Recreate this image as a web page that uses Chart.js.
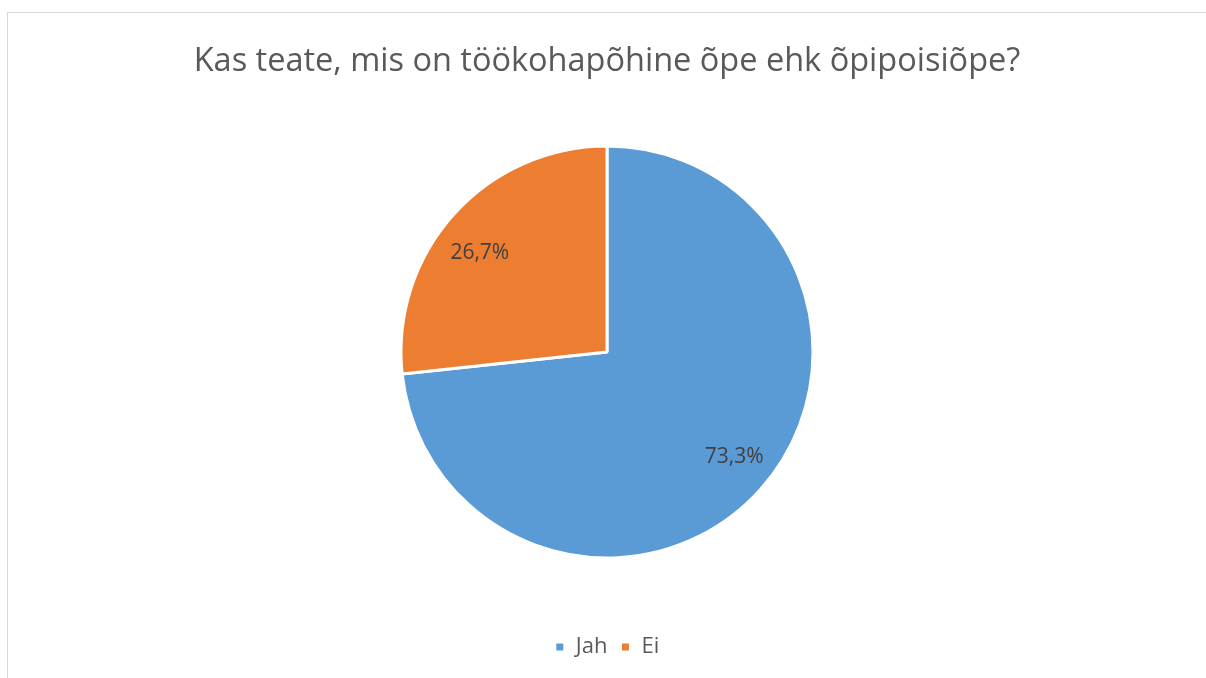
<!DOCTYPE html>
<html>
<head>
<meta charset="utf-8">
<script src="https://cdn.jsdelivr.net/npm/chart.js@4"></script>
<style>
  html, body { margin: 0; padding: 0; background: #fff; overflow: hidden; }
  #wrap { position: absolute; left: 0; top: 0; width: 1206px; height: 678px; }
  #frame { position: absolute; left: 7px; top: 12px; width: 1220px; height: 700px; border: 1px solid #d9d9d9; box-sizing: border-box; }
  canvas { position: absolute; left: 0; top: 0; }
</style>
</head>
<body>
<div id="wrap">
  <div id="frame"></div>
  <canvas id="c" width="1206" height="678"></canvas>
</div>
<script>
const titleText = 'Kas teate, mis on töökohapõhine õpe ehk õpipoisiõpe?';
const categories = ['Jah', 'Ei'];
const values = [73.3, 26.7];
const labelsText = ['73,3%', '26,7%'];
const colors = ['#5b9bd5', '#ed7d31'];

const FONT = "'Open Sans', 'Noto Sans', sans-serif";

const dataLabels = {
  id: 'dataLabels',
  afterDatasetsDraw(chart) {
    const ctx = chart.ctx;
    const meta = chart.getDatasetMeta(0);
    ctx.save();
    ctx.font = "21px " + FONT;
    ctx.fillStyle = '#404040';
    ctx.textAlign = 'center';
    ctx.textBaseline = 'middle';
    meta.data.forEach((arc, i) => {
      const p = arc.getProps(['x', 'y', 'startAngle', 'endAngle', 'outerRadius'], true);
      const mid = (p.startAngle + p.endAngle) / 2;
      const rx = p.outerRadius * 0.83, ry = p.outerRadius * 0.74;
      ctx.fillText(labelsText[i], p.x + Math.cos(mid) * rx, p.y + Math.sin(mid) * ry + 3);
    });
    ctx.restore();
  }
};

new Chart(document.getElementById('c'), {
  type: 'pie',
  data: {
    labels: categories,
    datasets: [{
      data: values,
      backgroundColor: colors,
      borderColor: '#ffffff',
      borderWidth: 3,
      radius: 206,
      hoverOffset: 0
    }]
  },
  options: {
    responsive: false,
    animation: false,
    events: [],
    layout: { padding: { top: 0, bottom: 10, left: 8, right: 0 } },
    plugins: {
      title: {
        display: true,
        text: titleText,
        color: '#595959',
        font: { family: FONT, size: 32.5, weight: 'normal' },
        padding: { top: 42, bottom: 0 }
      },
      legend: {
        display: true,
        position: 'bottom',
        labels: {
          color: '#595959',
          font: { family: FONT, size: 22 },
          boxWidth: 10,
          boxHeight: 10,
          padding: 13
        }
      },
      tooltip: { enabled: false }
    }
  },
  plugins: [dataLabels]
});
</script>
</body>
</html>
